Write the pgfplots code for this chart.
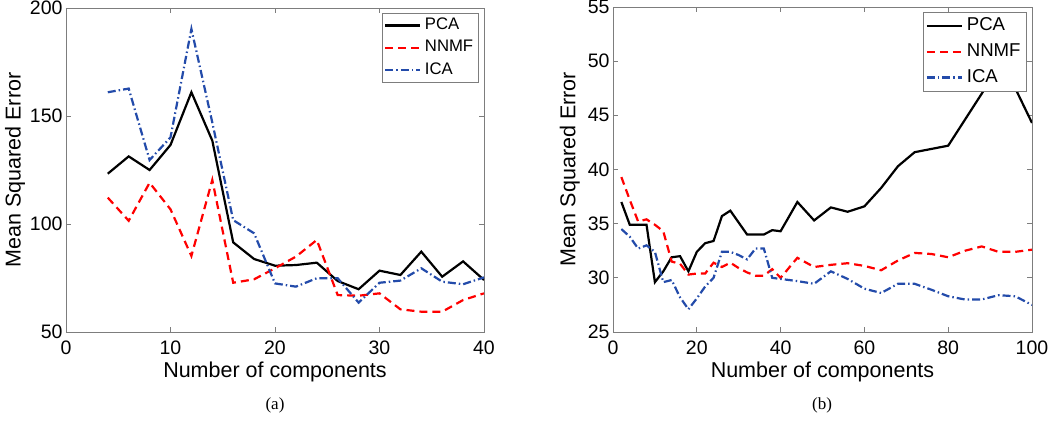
\documentclass[border=0pt]{standalone}
\usepackage{fontspec}
\setmainfont{Liberation Sans}
\newfontfamily\seriffont{Liberation Serif}
\usepackage{pgfplots}
\pgfplotsset{compat=1.18}
\definecolor{icablue}{RGB}{35,75,170}
\definecolor{axgray}{RGB}{125,125,125}

\pgfplotstableread{
x pca nnmf ica
4 123.3 112.2 161.0
6 131.3 101.5 162.7
8 125.0 119.1 129.6
10 136.6 106.8 140.1
12 161.0 85.2 190.3
14 138.6 120.4 147.0
16 91.5 72.8 101.8
18 83.8 74.4 95.7
20 80.7 79.5 72.5
22 81.0 84.9 71.0
24 82.1 92.6 74.9
26 73.6 67.1 74.9
28 69.8 66.8 63.6
30 78.4 67.9 72.8
32 76.4 60.5 73.8
34 87.2 59.4 79.5
36 75.6 59.4 73.3
38 82.7 64.8 72.1
40 74.1 67.9 75.3
}\lefttable

\pgfplotstableread{
x pca nnmf ica
2 37.0 39.3 34.5
4 34.9 37.2 33.8
6 34.9 35.2 32.7
8 34.9 35.4 33.0
10 29.6 34.9 32.4
12 30.6 34.3 29.6
14 31.9 31.5 29.8
16 32.0 31.3 28.2
18 30.6 30.3 27.1
20 32.4 30.4 28.1
22 33.2 30.4 29.2
24 33.4 31.4 30.0
26 35.7 31.0 32.4
28 36.2 31.4 32.4
30 35.1 30.9 32.1
32 34.0 30.5 31.7
34 34.0 30.2 32.7
36 34.0 30.2 32.7
38 34.4 30.8 30.0
40 34.3 30.0 29.9
44 37.0 31.85 29.7
48 35.3 31.0 29.45
52 36.5 31.2 30.6
56 36.1 31.35 29.9
60 36.6 31.1 29.0
64 38.3 30.7 28.6
68 40.3 31.6 29.45
72 41.6 32.3 29.45
76 41.9 32.2 28.9
80 42.2 31.9 28.3
84 44.6 32.5 28.0
88 47.0 32.9 28.0
92 49.4 32.4 28.4
96 47.5 32.4 28.3
100 44.3 32.6 27.5
}\righttable

\pgfplotsset{
  mystyle/.style={
    scale only axis,
    axis line style={axgray, line width=0.8pt},
    tick style={axgray, line width=0.8pt},
    major tick length=5pt,
    tick align=inside,
    xtick pos=both, ytick pos=both,
    /pgf/number format/assume math mode=true,
    tick label style={font=\fontsize{19.5}{22}\selectfont, black},
    xticklabel style={yshift=-5pt},
    label style={font=\fontsize{21.5}{24}\selectfont},
    xlabel style={at={(axis description cs:0.5,-0.139)}, anchor=base},
    every axis plot/.append style={line width=2.2pt},
    legend cell align=left,
    legend image code/.code={\draw[##1] (0pt,0pt) -- (35pt,0pt);},
    legend style={draw=axgray, line width=0.8pt, fill=white,
      at={(axis description cs:0.988,0.985)}, anchor=north east,
      inner xsep=2pt, inner ysep=1pt, row sep=0pt},
  },
  pcastyle/.style={black, solid},
  nnmfstyle/.style={red, dash pattern=on 8pt off 5pt},
  icastyle/.style={icablue, dash pattern=on 8pt off 3pt on 1.5pt off 3pt},
}

\begin{document}
\begin{tikzpicture}
\useasboundingbox (0pt,0pt) rectangle (1050pt,-424pt);

\begin{axis}[mystyle,
  at={(66pt,-332pt)}, anchor=south west,
  width=418pt, height=324pt,
  xmin=0, xmax=40, ymin=50, ymax=200,
  xtick={0,10,20,30,40}, ytick={50,100,150,200},
  xlabel={Number of components},
  ylabel={Mean Squared Error},
  ylabel style={at={(axis description cs:-0.122,0.5)}, anchor=center, rotate=0},
  legend style={font=\fontsize{16.7}{18}\selectfont,
    nodes={text height=12pt, text depth=3.5pt, inner sep=3.4pt}},
]
\addplot[pcastyle] table[x=x,y=pca] {\lefttable};
\addplot[nnmfstyle] table[x=x,y=nnmf] {\lefttable};
\addplot[icastyle] table[x=x,y=ica] {\lefttable};
\legend{PCA,NNMF,ICA}
\end{axis}

\begin{axis}[mystyle,
  at={(613pt,-332pt)}, anchor=south west,
  width=419pt, height=325pt,
  xmin=0, xmax=100, ymin=25, ymax=55,
  xtick={0,20,40,60,80,100}, ytick={25,30,35,40,45,50,55},
  xlabel={Number of components},
  ylabel={Mean Squared Error},
  ylabel style={at={(axis description cs:-0.103,0.5)}, anchor=center},
  legend style={font=\fontsize{18.6}{20}\selectfont,
    nodes={text height=13.5pt, text depth=4.2pt, inner sep=4pt}},
]
\addplot[pcastyle] table[x=x,y=pca] {\righttable};
\addplot[nnmfstyle] table[x=x,y=nnmf] {\righttable};
\addplot[icastyle] table[x=x,y=ica] {\righttable};
\legend{PCA,NNMF,ICA}
\end{axis}

\node[font=\seriffont\fontsize{17}{20}\selectfont, anchor=center] at (275pt,-405pt) {(a)};
\node[font=\seriffont\fontsize{17}{20}\selectfont, anchor=center] at (822pt,-405pt) {(b)};
\end{tikzpicture}
\end{document}
